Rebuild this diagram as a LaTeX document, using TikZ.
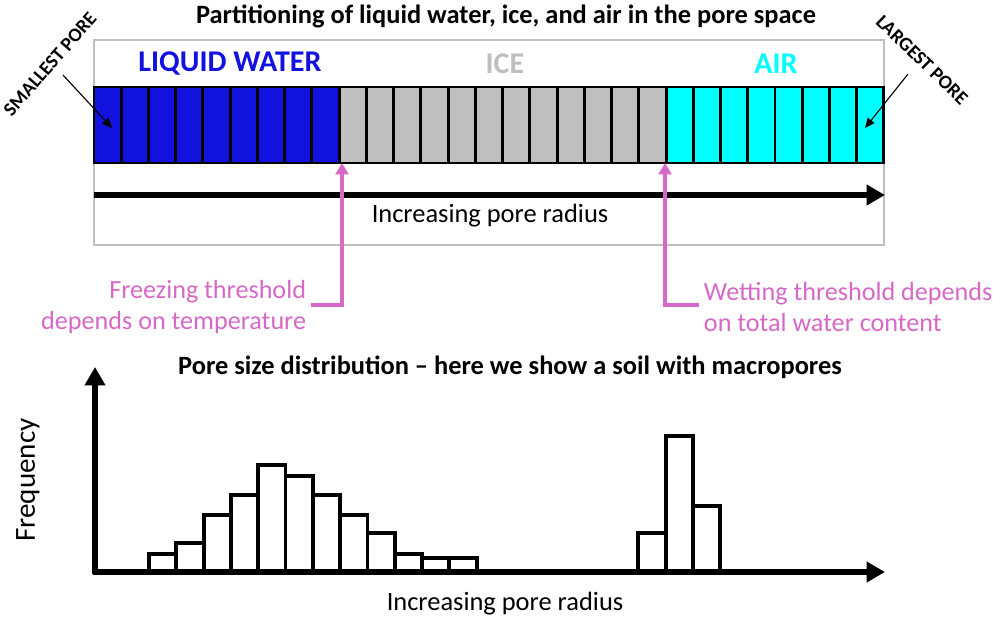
\documentclass[tikz,border=0pt]{standalone}
\usepackage{fontspec}
\setmainfont{Carlito}
\usetikzlibrary{arrows.meta, positioning}
\definecolor{waterblue}{RGB}{18, 18, 222}
\definecolor{icegray}{RGB}{191, 191, 191}
\definecolor{aircyan}{RGB}{0, 255, 255}
\definecolor{threshpink}{RGB}{214, 104, 198}

\begin{document}
\begin{tikzpicture}[x=0.025cm, y=-0.025cm,
    pore/.style={draw=black, line width=2.1pt},
    bar/.style={draw=black, line width=2.7pt, fill=white},
    axisarrow/.style={line width=4.3pt, -{Triangle[length=13pt, width=14pt]}},
    thresh/.style={threshpink, line width=2.8pt, -{Triangle[length=8pt, width=9pt]}}]
        \useasboundingbox (0,0) rectangle (1000,621);

        % Top panel: partitioning of the pore space
        \node[font=\bfseries\fontsize{18.8}{22}\selectfont] (toptitle) at (506,16) {Partitioning of liquid water, ice, and air in the pore space};
        \draw[icegray, line width=2.1pt] (94,40) rectangle (884,245);
        \node[font=\bfseries\fontsize{21.4}{25}\selectfont, text=waterblue] (water) at (230,64) {LIQUID WATER};
        \node[font=\bfseries\fontsize{21.4}{25}\selectfont, text=icegray] (ice) at (505,64) {ICE};
        \node[font=\bfseries\fontsize{21.4}{25}\selectfont, text=aircyan] (air) at (776,64) {AIR};

        % Pore cells, smallest to largest
        \foreach \i in {0,...,8}
            \draw[pore, fill=waterblue] ({94+27.24*\i},87) rectangle ({94+27.24*(\i+1)},163);
        \foreach \i in {9,...,20}
            \draw[pore, fill=icegray] ({94+27.24*\i},87) rectangle ({94+27.24*(\i+1)},163);
        \foreach \i in {21,...,28}
            \draw[pore, fill=aircyan] ({94+27.24*\i},87) rectangle ({94+27.24*(\i+1)},163);

        \coordinate (radstart) at (94,195);
        \coordinate (radend) at (885,195);
        \draw[axisarrow] (radstart) -- (radend);
        \node[font=\fontsize{18.8}{22}\selectfont] (radius) at (490,216) {Increasing pore radius};

        % Smallest and largest pore labels
        \node[font=\bfseries\fontsize{13.8}{15}\selectfont, rotate=49] (smallest) at (50,64) {SMALLEST PORE};
        \coordinate (smallfrom) at (63,75);
        \coordinate (smallto) at (112,128);
        \draw[line width=0.8pt, -{Triangle[length=7pt, width=6pt]}] (smallfrom) -- (smallto);
        \node[font=\bfseries\fontsize{13.8}{15}\selectfont, rotate=-44] (largest) at (922,60) {LARGEST PORE};
        \coordinate (largefrom) at (908,74);
        \coordinate (largeto) at (865,128);
        \draw[line width=0.8pt, -{Triangle[length=7pt, width=6pt]}] (largefrom) -- (largeto);

        % Thresholds
        \node[threshpink, align=right, anchor=east, font=\fontsize{18.6}{22.7}\selectfont] (freeze) at (311,307) {Freezing threshold\\depends on temperature};
        \coordinate (freezebend) at (342,305);
        \coordinate (freezetip) at (342,163);
        \draw[thresh] (freeze.east |- freezebend) -- (freezebend) -- (freezetip);
        \node[threshpink, align=left, anchor=west, font=\fontsize{18.6}{22.7}\selectfont] (wet) at (699,307) {Wetting threshold depends\\on total water content};
        \coordinate (wetbend) at (665,305);
        \coordinate (wettip) at (665,163);
        \draw[thresh] (wet.west |- wetbend) -- (wetbend) -- (wettip);

        % Bottom panel: pore size distribution
        \node[font=\bfseries\fontsize{18.8}{22}\selectfont] (bottomtitle) at (510,367) {Pore size distribution -- here we show a soil with macropores};
        \foreach \x/\h in {149/554, 176.3/543, 203.6/515, 230.9/495, 258.2/465, 285.5/476, 312.8/495, 340.1/515, 367.4/533, 394.7/554, 422/558, 449.3/558}
            \draw[bar] (\x,572) rectangle ({\x+27.3},\h);
        \foreach \x/\h in {638.3/533, 665.6/436, 692.9/506}
            \draw[bar] (\x,572) rectangle ({\x+27.3},\h);

        \coordinate (yorigin) at (95,574);
        \coordinate (ytop) at (95,367);
        \coordinate (xorigin) at (93,572);
        \coordinate (xend) at (885,572);
        \draw[axisarrow] (yorigin) -- (ytop);
        \draw[axisarrow] (xorigin) -- (xend);
        \node[font=\fontsize{20.7}{24}\selectfont, rotate=90] (freq) at (28,480) {Frequency};
        \node[font=\fontsize{18.8}{22}\selectfont] (bottomradius) at (505,604) {Increasing pore radius};
    \end{tikzpicture}
\end{document}
